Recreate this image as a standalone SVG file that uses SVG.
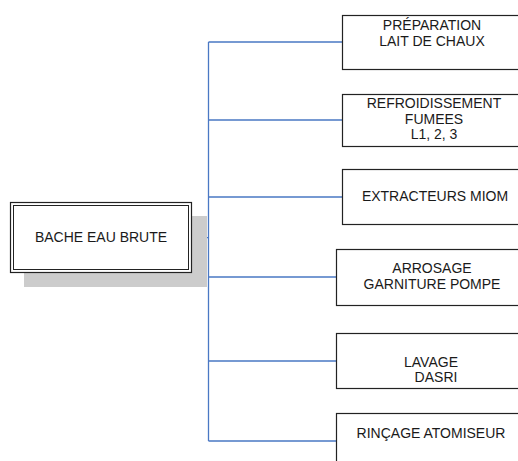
<svg xmlns="http://www.w3.org/2000/svg" width="518" height="461" viewBox="0 0 518 461">
<style>
.box{fill:#fff;stroke:#222;stroke-width:1.2}
.conn{stroke:#4a78c4;stroke-width:1.3;fill:none}
text{font-family:"Liberation Sans",Arial,sans-serif;font-size:14px;fill:#1a1a1a;text-anchor:middle}
</style>
<rect width="518" height="461" fill="#fff"/>
<g id="connectors">
<path class="conn" d="M192,237.7 H208.5 M208.5,42 V441 M208.5,42 H342 M208.5,120 H342 M208.5,197 H342 M208.5,277 H336 M208.5,361 H336 M208.5,441 H336"/>
</g>
<g id="main">
<rect x="24" y="216" width="183" height="71" fill="#cccccc"/>
<rect class="box" x="10.5" y="202.5" width="181" height="70"/>
<rect x="13.5" y="205.5" width="175" height="64" fill="none" stroke="#222" stroke-width="1"/>
<text x="101" y="242">BACHE EAU BRUTE</text>
</g>
<g id="n1">
<rect class="box" x="342.5" y="15.5" width="190" height="54"/>
<text x="432" y="30">PRÉPARATION</text>
<text x="432" y="45.5">LAIT DE CHAUX</text>
</g>
<g id="n2">
<rect class="box" x="342.5" y="94.5" width="190" height="52"/>
<text x="434" y="108">REFROIDISSEMENT</text>
<text x="434" y="123.5">FUMEES</text>
<text x="434" y="139">L1, 2, 3</text>
</g>
<g id="n3">
<rect class="box" x="342.5" y="169.5" width="190" height="55"/>
<text x="435" y="201">EXTRACTEURS MIOM</text>
</g>
<g id="n4">
<rect class="box" x="336.5" y="249.5" width="196" height="56"/>
<text x="432" y="273">ARROSAGE</text>
<text x="432" y="289">GARNITURE POMPE</text>
</g>
<g id="n5">
<rect class="box" x="336.5" y="333.5" width="196" height="55"/>
<text x="431" y="367">LAVAGE</text>
<text x="436" y="382">DASRI</text>
</g>
<g id="n6">
<rect class="box" x="336.5" y="413.5" width="196" height="60"/>
<text x="431" y="438">RINÇAGE ATOMISEUR</text>
</g>
</svg>
